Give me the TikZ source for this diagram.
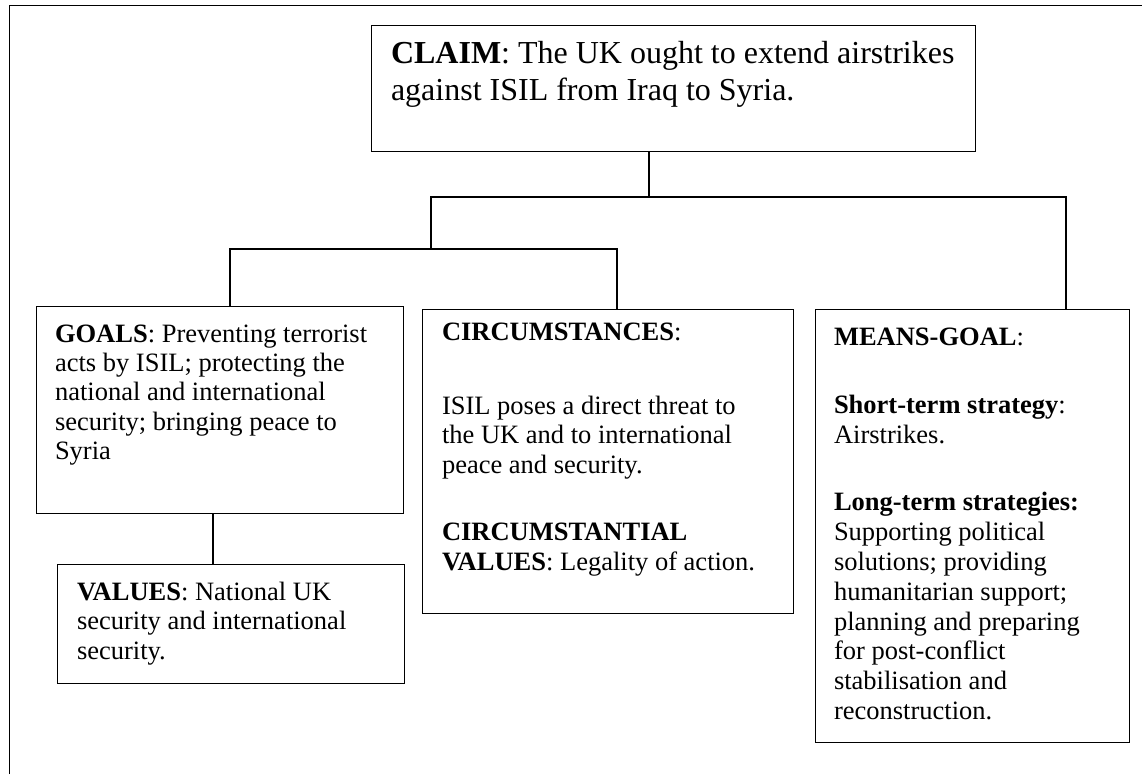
\documentclass[tikz,border=0pt]{standalone}
\usepackage{fontspec}
\setmainfont{Liberation Serif}
\usepackage{tikz}

\newcommand{\boxtext}[3]{\parbox[t][#2][t]{#1}{\raggedright #3}}

\begin{document}
\begin{tikzpicture}[x=1pt, y=-1pt, every node/.style={draw, line width=1pt,
  anchor=north west, inner xsep=20pt, inner ysep=19pt, outer sep=0pt,
  font=\fontsize{26.5}{29.5}\selectfont}, link/.style={line width=1.4pt}]
  \useasboundingbox (0,0) rectangle (1142,774);
  % page frame
  \draw[line width=1pt] (9,774) -- (9,5) -- (1142,5);

  \node[inner ysep=16pt, font=\fontsize{32}{37}\selectfont] (claim) at (371,25)
    {\boxtext{564pt}{94pt}{\textbf{CLAIM}: The UK ought to extend airstrikes\\
     against ISIL from Iraq to Syria.}};
  \node[inner xsep=19pt, font=\fontsize{26.5}{29.2}\selectfont] (goals) at (36,306)
    {\boxtext{329pt}{169pt}{\textbf{GOALS}: Preventing terrorist\\
     acts by ISIL; protecting the\\ national and international\\
     security; bringing peace to\\ Syria}};
  \node[inner ysep=18pt] (values) at (57,564)
    {\boxtext{307pt}{83pt}{\textbf{VALUES}: National UK\\
     security and international\\ security.}};
  \node[inner ysep=14pt] (circ) at (422,309)
    {\boxtext{331pt}{276pt}{\textbf{CIRCUMSTANCES}:\\[44pt]
     ISIL poses a direct threat to\\ the UK and to international\\
     peace and security.\\[38pt]
     \textbf{CIRCUMSTANTIAL}\\ \textbf{VALUES}: Legality of action.}};
  \node[inner xsep=19pt, font=\fontsize{26.5}{29.8}\selectfont] (means) at (815,309)
    {\boxtext{276pt}{395pt}{\textbf{MEANS-GOAL}:\\[38pt]
     \textbf{Short-term strategy}:\\ Airstrikes.\\[38pt]
     \textbf{Long-term strategies:}\\ Supporting political\\
     solutions; providing\\ humanitarian support;\\
     planning and preparing\\ for post-conflict\\
     stabilisation and\\ reconstruction.}};

  % junction points of the tree
  \coordinate (trunk) at (649,197);
  \coordinate (hl) at (431,197);
  \coordinate (hr) at (1066,197);
  \coordinate (gl) at (230,249);
  \coordinate (gr) at (617,249);
  \coordinate (vc) at (213,0);

  \draw[link] (claim.south -| trunk) -- (trunk);
  \draw[link] (hl |- gl) -- (hl) -- (hr) -- (hr |- means.north);
  \draw[link] (gl |- goals.north) -- (gl) -- (gr) -- (gr |- circ.north);
  \draw[link] (goals.south -| vc) -- (values.north -| vc);
\end{tikzpicture}
\end{document}
